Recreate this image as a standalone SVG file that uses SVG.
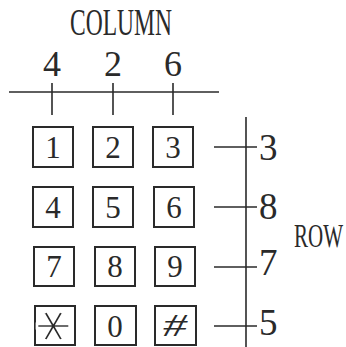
<svg xmlns="http://www.w3.org/2000/svg" width="346" height="347" viewBox="0 0 346 347">
<style>
.ln{stroke:#2a2a2a;stroke-width:1.6;fill:none}
.bx{stroke:#2a2a2a;stroke-width:2;fill:none}
.t{font-family:"Liberation Serif",serif;fill:#2a2a2a}
.k{font-size:31px;text-anchor:middle}
.c{font-size:36px;text-anchor:middle}
.r{font-size:37px}
</style>
<rect width="346" height="347" fill="#fff"/>
<g id="column-label"><text class="t" x="70" y="35" font-size="38" textLength="102" lengthAdjust="spacingAndGlyphs">COLUMN</text></g>
<g id="row-label"><text class="t" x="0" y="0" font-size="22" textLength="49" lengthAdjust="spacingAndGlyphs" transform="translate(294,247) scale(1,1.5)">ROW</text></g>
<g id="col-numbers">
<text class="t c" x="52" y="76">4</text>
<text class="t c" x="113" y="76">2</text>
<text class="t c" x="173" y="76">6</text>
</g>
<g id="row-numbers">
<text class="t r" x="259" y="160">3</text>
<text class="t r" x="259" y="219">8</text>
<text class="t r" x="259" y="275">7</text>
<text class="t r" x="259" y="335">5</text>
</g>
<g id="connectors">
<line class="ln" x1="9" y1="92" x2="219" y2="92"/>
<line class="ln" x1="52" y1="83" x2="52" y2="115"/>
<line class="ln" x1="113" y1="83" x2="113" y2="115"/>
<line class="ln" x1="173" y1="83" x2="173" y2="115"/>
<line class="ln" x1="246" y1="117" x2="246" y2="347"/>
<line class="ln" x1="214" y1="147" x2="257" y2="147"/>
<line class="ln" x1="214" y1="207" x2="257" y2="207"/>
<line class="ln" x1="214" y1="267" x2="257" y2="267"/>
<line class="ln" x1="214" y1="326" x2="257" y2="326"/>
</g>
<g id="key-1"><rect class="bx" x="33" y="127" width="40" height="40"/><text class="t k" x="53" y="158">1</text></g>
<g id="key-2"><rect class="bx" x="93" y="127" width="40" height="40"/><text class="t k" x="113" y="158">2</text></g>
<g id="key-3"><rect class="bx" x="153" y="127" width="40" height="40"/><text class="t k" x="173" y="158">3</text></g>
<g id="key-4"><rect class="bx" x="33" y="187" width="40" height="40"/><text class="t k" x="53" y="218">4</text></g>
<g id="key-5"><rect class="bx" x="93" y="187" width="40" height="40"/><text class="t k" x="113" y="218">5</text></g>
<g id="key-6"><rect class="bx" x="154" y="187" width="40" height="40"/><text class="t k" x="174" y="218">6</text></g>
<g id="key-7"><rect class="bx" x="34" y="247" width="40" height="39"/><text class="t k" x="54" y="277">7</text></g>
<g id="key-8"><rect class="bx" x="95" y="247" width="40" height="39"/><text class="t k" x="115" y="277">8</text></g>
<g id="key-9"><rect class="bx" x="155" y="247" width="40" height="39"/><text class="t k" x="175" y="277">9</text></g>
<g id="key-star"><rect class="bx" x="35" y="306" width="40" height="39"/><text x="55" y="326" font-family="DejaVu Sans,sans-serif" font-size="52" text-anchor="middle" dominant-baseline="central" fill="#2a2a2a" stroke="#fff" stroke-width="2.6" transform="rotate(90 55 326)">∗</text></g>
<g id="key-0"><rect class="bx" x="95" y="306" width="41" height="39"/><text class="t k" x="115" y="337">0</text></g>
<g id="key-hash"><rect class="bx" x="155" y="306" width="41" height="39"/><text class="t" x="175" y="336" font-size="32" font-style="italic" text-anchor="middle" textLength="24" lengthAdjust="spacingAndGlyphs">#</text></g>
</svg>
